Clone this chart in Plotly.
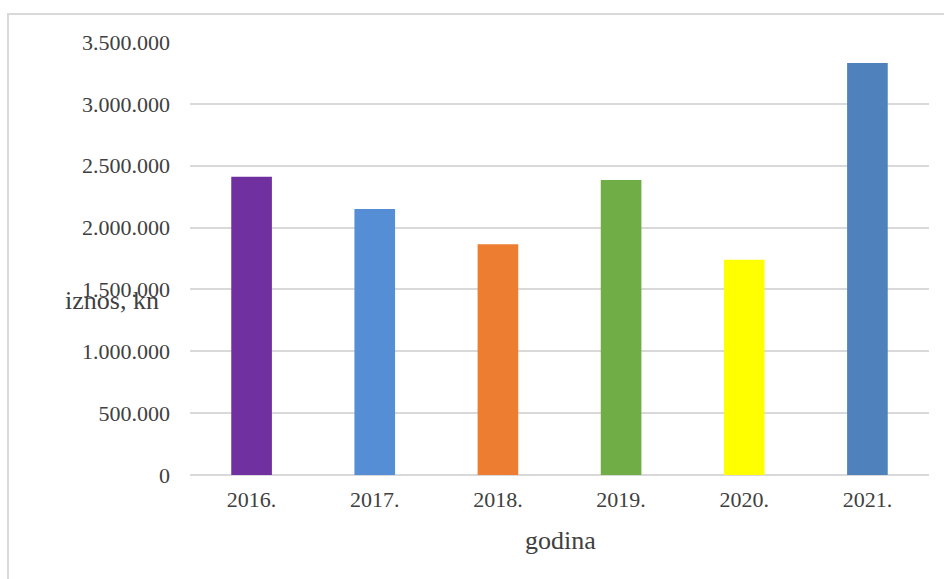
import plotly.graph_objects as go

years = ["2016.", "2017.", "2018.", "2019.", "2020.", "2021."]
amounts = [2410000, 2150000, 1865000, 2385000, 1740000, 3330000]
colors = ["#7030A0", "#558ED5", "#ED7D31", "#70AD47", "#FFFF00", "#4F81BD"]
y_ticks = [0, 500000, 1000000, 1500000, 2000000, 2500000, 3000000, 3500000]
y_tick_labels = ["0", "500.000", "1.000.000", "1.500.000", "2.000.000", "2.500.000", "3.000.000", "3.500.000"]

FONT = "Liberation Serif"
TXT = "#404040"

fig = go.Figure(go.Bar(x=years, y=amounts, marker=dict(color=colors, line=dict(width=0)), width=0.33))

fig.update_layout(
    width=944, height=579,
    margin=dict(l=190, r=15, t=42, b=104),
    paper_bgcolor="white", plot_bgcolor="white",
    showlegend=False,
    font=dict(family=FONT, size=22, color=TXT),
    xaxis=dict(showgrid=False, showline=False, ticks="", ticklabelstandoff=9,
               tickfont=dict(size=22, color=TXT)),
    yaxis=dict(range=[0, 3500000], tickvals=y_ticks, ticktext=y_tick_labels,
               showgrid=True, gridcolor="#D9D9D9", gridwidth=2,
               zeroline=True, zerolinecolor="#D9D9D9", zerolinewidth=2,
               showline=False, ticks="", ticklabelstandoff=19,
               tickfont=dict(size=22, color=TXT)),
    shapes=[dict(type="rect", xref="paper", yref="paper",
                 x0=(8 - 190) / 739, x1=1.2, y0=-0.5, y1=(475 - 14) / 433,
                 line=dict(color="#D9D9D9", width=2), fillcolor="rgba(0,0,0,0)", layer="below")],
    annotations=[
        dict(text="iznos, kn", xref="paper", yref="paper",
             x=(112 - 190) / 739, y=(475 - 300) / 433, showarrow=False,
             font=dict(size=26, color=TXT), xanchor="center", yanchor="middle"),
        dict(text="godina", xref="paper", yref="paper",
             x=(560 - 190) / 739, y=(475 - 540) / 433, showarrow=False,
             font=dict(size=26, color=TXT), xanchor="center", yanchor="middle"),
    ],
)

fig.write_html("out.html")
